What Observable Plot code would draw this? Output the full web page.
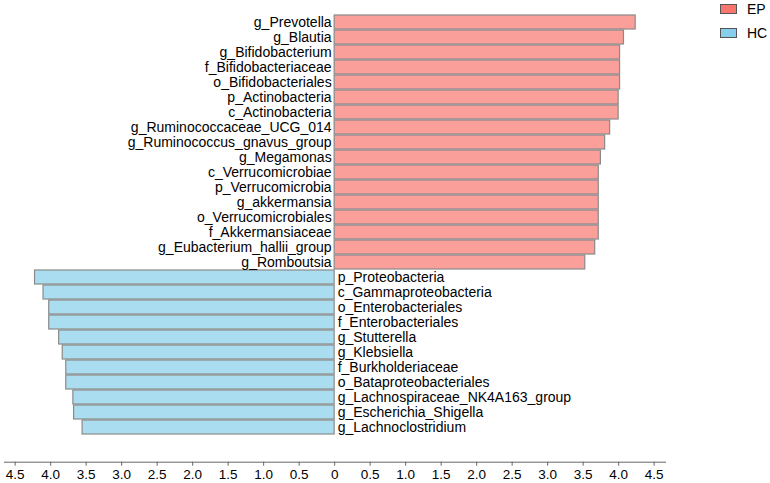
<!DOCTYPE html>
<html><head><meta charset="utf-8">
<script src="https://cdn.jsdelivr.net/npm/d3@7"></script>
<script src="https://cdn.jsdelivr.net/npm/@observablehq/plot@0.6"></script>
<style>
body{margin:0;background:#fff;font-family:Arial,"Liberation Sans",sans-serif}
#wrap{position:relative;width:770px;height:483px}
.leg{position:absolute;left:720px;font-size:14px;color:#000;display:flex;align-items:center;height:16px}
.sw{width:15px;height:8px;border:1px solid #555;margin-right:10px}
</style></head><body><div id="wrap"></div>
<script>
const epNames = ["g_Prevotella","g_Blautia","g_Bifidobacterium","f_Bifidobacteriaceae","o_Bifidobacteriales","p_Actinobacteria","c_Actinobacteria","g_Ruminococcaceae_UCG_014","g_Ruminococcus_gnavus_group","g_Megamonas","c_Verrucomicrobiae","p_Verrucomicrobia","g_akkermansia","o_Verrucomicrobiales","f_Akkermansiaceae","g_Eubacterium_hallii_group","g_Romboutsia"];
const epValues = [4.24,4.075,4.02,4.02,4.02,4.00,4.00,3.88,3.81,3.75,3.72,3.72,3.72,3.72,3.72,3.67,3.53];
const hcNames = ["p_Proteobacteria","c_Gammaproteobacteria","o_Enterobacteriales","f_Enterobacteriales","g_Stutterella","g_Klebsiella","f_Burkholderiaceae","o_Bataproteobacteriales","g_Lachnospiraceae_NK4A163_group","g_Escherichia_Shigella","g_Lachnoclostridium"];
const hcValues = [4.22,4.10,4.02,4.02,3.88,3.83,3.78,3.78,3.68,3.67,3.55];
const groups = ["EP","HC"];
const groupColors = ["#F8766D","#87CEEB"];
const xTicks = [-4.5,-4,-3.5,-3,-2.5,-2,-1.5,-1,-0.5,0,0.5,1,1.5,2,2.5,3,3.5,4,4.5];

const data = [
  ...epNames.map((n,i)=>({taxon:n, lda:epValues[i], group:"EP"})),
  ...hcNames.map((n,i)=>({taxon:n, lda:-hcValues[i], group:"HC"}))
];
const order = [...epNames, ...hcNames];
const font = "Arial, 'Liberation Sans', sans-serif";

const chart = Plot.plot({
  width: 770, height: 483,
  marginLeft: 4, marginRight: 105, marginTop: 8.3, marginBottom: 21.3,
  style: {fontFamily: font, fontSize: "14px", color: "#000", background: "#fff"},
  x: {domain: [-4.65, 4.66], label: null, axis: null},
  y: {domain: order, axis: null, paddingInner: 0.075, paddingOuter: 0, insetBottom: 21.7},
  color: {domain: groups, range: groupColors},
  marks: [
    Plot.barX(data, {x1: 0, x2: "lda", y: "taxon", fill: "group", fillOpacity: 0.7, stroke: "#8a8a8a", strokeWidth: 1.2}),
    Plot.text(data.filter(d => d.group === "EP"), {x: 0, y: "taxon", text: "taxon", textAnchor: "end", dx: -3, fontSize: 14, fill: "#000"}),
    Plot.text(data.filter(d => d.group === "HC"), {x: 0, y: "taxon", text: "taxon", textAnchor: "start", dx: 3, fontSize: 14, fill: "#000"}),
    Plot.frame({anchor: "bottom", stroke: "#666"}),
    Plot.axisX({ticks: xTicks, tickFormat: d => d === 0 ? "0" : Math.abs(d).toFixed(1), tickSize: 4, tickPadding: 3, stroke: "#666", fill: "#000", fontSize: 13.5, label: null})
  ]
});
const wrap = document.getElementById("wrap");
wrap.appendChild(chart);
groups.forEach((g,i) => {
  const d = document.createElement("div");
  d.className = "leg";
  d.style.top = (i === 0 ? 1 : 25) + "px";
  d.innerHTML = `<span class="sw" style="background:${groupColors[i]}"></span><span>${g}</span>`;
  wrap.appendChild(d);
});
</script></body></html>
